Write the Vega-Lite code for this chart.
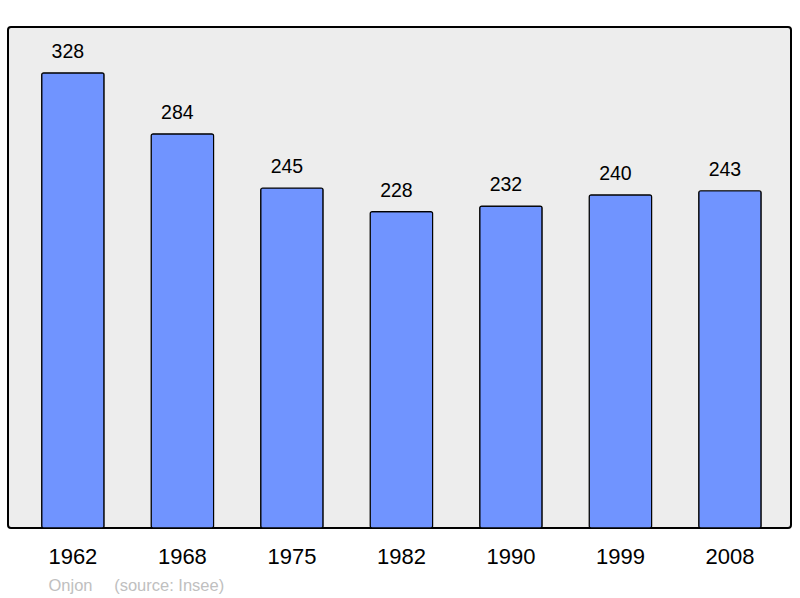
{
  "$schema": "https://vega.github.io/schema/vega-lite/v6.json",
  "width": 783,
  "height": 501,
  "autosize": {"type": "none"},
  "padding": {"left": 8, "top": 27, "right": 9, "bottom": 70},
  "background": "white",
  "config": {
    "font": "Liberation Sans",
    "view": {"fill": "#ededed", "stroke": "#000000", "strokeWidth": 2, "cornerRadius": 3}
  },
  "data": {
    "values": [
      {"year": "1962", "pop": 328},
      {"year": "1968", "pop": 284},
      {"year": "1975", "pop": 245},
      {"year": "1982", "pop": 228},
      {"year": "1990", "pop": 232},
      {"year": "1999", "pop": 240},
      {"year": "2008", "pop": 243}
    ]
  },
  "encoding": {
    "x": {
      "field": "year",
      "type": "ordinal",
      "sort": null,
      "scale": {"paddingInner": 0.43, "paddingOuter": 0.29, "align": 0.53},
      "axis": {
        "title": "Onjon\u00a0\u00a0\u00a0\u00a0\u2009(source: Insee)",
        "titleFont": "Liberation Sans",
        "titleFontSize": 16.5,
        "titleFontWeight": "normal",
        "titleColor": "#c0c0c0",
        "titleAnchor": "start",
        "titleAlign": "left",
        "titleBaseline": "alphabetic",
        "titleX": 40,
        "titleY": 62,
        "labelAngle": 0,
        "labelFontSize": 22,
        "labelColor": "#000000",
        "labelBaseline": "alphabetic",
        "labelPadding": 35,
        "ticks": false,
        "tickSize": 0,
        "domain": false
      }
    },
    "y": {
      "field": "pop",
      "type": "quantitative",
      "scale": {"domain": [0, 361], "nice": false},
      "axis": null
    }
  },
  "layer": [
    {
      "mark": {"type": "bar", "fill": "#7094ff", "stroke": "#000000", "strokeWidth": 1.2, "cornerRadius": 2}
    },
    {
      "mark": {"type": "text", "fontSize": 19.5, "color": "#000000", "baseline": "alphabetic", "dy": -15, "dx": -5},
      "encoding": {"text": {"field": "pop", "type": "quantitative"}}
    }
  ]
}
